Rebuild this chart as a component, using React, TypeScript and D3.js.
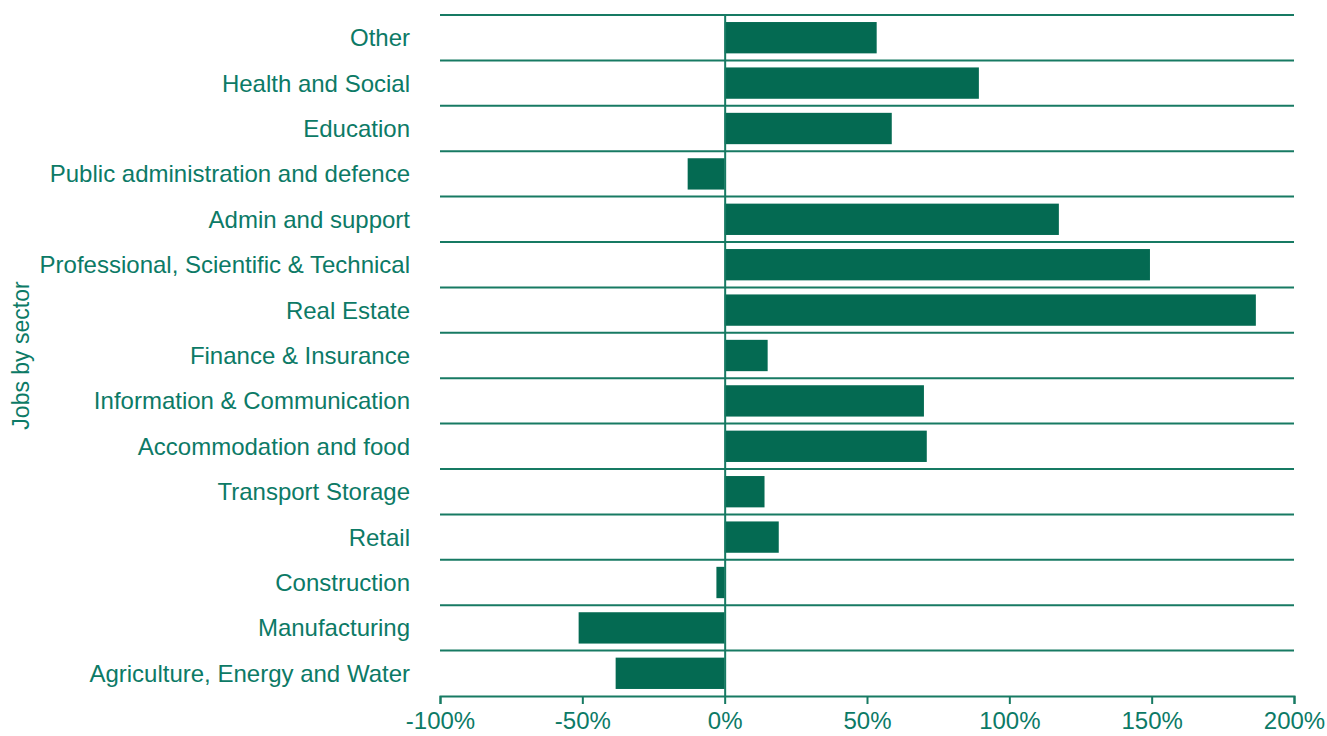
import React, { useEffect, useRef } from 'react';
import * as d3 from 'd3';

// sectors listed bottom to top as in the source
const sectors = [
  'Agriculture, Energy and Water',
  'Manufacturing',
  'Construction',
  'Retail',
  'Transport Storage',
  'Accommodation and food',
  'Information & Communication',
  'Finance & Insurance',
  'Real Estate',
  'Professional, Scientific & Technical',
  'Admin and support',
  'Public administration and defence',
  'Education',
  'Health and Social',
  'Other',
];

const change = [-38.3, -51.3, -2.9, 19, 14, 71, 70, 15.1, 186.6, 149.4, 117.4, -13, 58.7, 89.3, 53.4];

const xTicks = [-100, -50, 0, 50, 100, 150, 200];

const W = 1327;
const H = 736;
const margin = { left: 440, right: 33, top: 15, bottom: 40 };

const barColor = '#046a52';
const lineColor = '#177a63';
const textColor = '#0c7a66';
const font = 'Liberation Sans, Arial, sans-serif';

export default function App() {
  const ref = useRef<SVGSVGElement>(null);

  useEffect(() => {
    const svg = d3.select(ref.current);
    svg.selectAll('*').remove();

    const x = d3.scaleLinear()
      .domain([-100, 200])
      .range([margin.left, W - margin.right]);

    const y = d3.scaleBand()
      .domain([...sectors].reverse())
      .range([margin.top, H - margin.bottom])
      .paddingInner(0.31)
      .paddingOuter(0.155);

    const step = y.step();
    const bandTop = (s: string) => (y(s) as number) - step * 0.155;

    // horizontal separators
    svg.append('g')
      .selectAll('line')
      .data(sectors)
      .enter()
      .append('line')
        .attr('x1', x(-100))
        .attr('x2', x(200))
        .attr('y1', d => bandTop(d))
        .attr('y2', d => bandTop(d))
        .attr('stroke', lineColor)
        .attr('stroke-width', 2);

    // bars
    svg.append('g')
      .selectAll('rect')
      .data(sectors)
      .enter()
      .append('rect')
        .attr('x', (d, i) => x(Math.min(0, change[i])))
        .attr('y', d => y(d) as number)
        .attr('width', (d, i) => Math.abs(x(change[i]) - x(0)))
        .attr('height', y.bandwidth())
        .attr('fill', barColor);

    // zero line
    svg.append('line')
      .attr('x1', x(0) + 0.5)
      .attr('x2', x(0) + 0.5)
      .attr('y1', margin.top)
      .attr('y2', H - margin.bottom)
      .attr('stroke', lineColor)
      .attr('stroke-width', 2);

    // bottom axis
    const xAxis = svg.append('g')
      .attr('transform', `translate(0,${H - margin.bottom})`)
      .call(
        d3.axisBottom(x)
          .tickValues(xTicks)
          .tickFormat(d => `${d}%`)
          .tickSizeInner(8)
          .tickSizeOuter(8)
          .tickPadding(8)
      );
    xAxis.select('.domain').attr('stroke', lineColor).attr('stroke-width', 2);
    xAxis.selectAll('.tick line').attr('stroke', lineColor).attr('stroke-width', 2);
    xAxis.selectAll('.tick text')
      .attr('fill', textColor)
      .attr('font-size', 24)
      .attr('font-family', font);

    // category labels
    svg.append('g')
      .selectAll('text')
      .data(sectors)
      .enter()
      .append('text')
        .attr('x', 410)
        .attr('y', d => (y(d) as number) + y.bandwidth() / 2)
        .attr('dy', '0.35em')
        .attr('text-anchor', 'end')
        .attr('fill', textColor)
        .attr('font-size', 24)
        .attr('font-family', font)
        .text(d => d);

    // axis title
    svg.append('text')
      .attr('transform', `translate(29,${(margin.top + H - margin.bottom) / 2}) rotate(-90)`)
      .attr('text-anchor', 'middle')
      .attr('fill', textColor)
      .attr('font-size', 23)
      .attr('font-family', font)
      .text('Jobs by sector');
  }, []);

  return (
    <svg
      ref={ref}
      width={W}
      height={H}
      style={{ position: 'absolute', left: 0, top: 0, background: '#fff' }}
    />
  );
}
